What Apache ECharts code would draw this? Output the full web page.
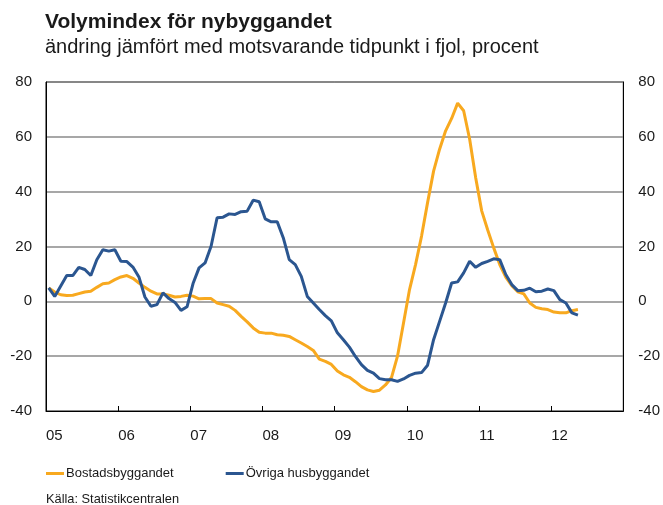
<!DOCTYPE html>
<html>
<head>
    <meta charset="utf-8">
    <title>Volymindex för nybyggandet</title>
    <script src="https://cdn.jsdelivr.net/npm/echarts@6/dist/echarts.min.js"></script>
    <style>
        html, body { margin: 0; padding: 0; background: #fff; }
        #chart1 { width: 663px; height: 505px; }
    </style>
</head>
<body>
<div id="chart1"></div>
<script type="text/javascript">
    // år på x-axeln, en etikett per årsskifte
    var yearLabels = ['05', '06', '07', '08', '09', '10', '11', '12'];
    var yTicks = [-40, -20, 0, 20, 40, 60, 80];

    // månadsvärden jan 2005 - maj 2012, procent
    var bostad = [
        4.9, 3.4, 2.4, 2.1, 2.2, 2.8, 3.4, 3.7, 5.1, 6.4, 6.7, 7.9,
        8.9, 9.4, 8.4, 6.7, 5.1, 3.7, 2.7, 2.7, 2.2, 1.6, 1.8, 2.2,
        1.9, 0.9, 1.0, 1.0, -0.6, -1.2, -1.8, -3.3, -5.5, -7.5, -9.7, -11.3,
        -11.6, -11.6, -12.2, -12.4, -12.8, -14.0, -15.2, -16.5, -17.9, -21.1, -21.9, -23.0,
        -25.4, -26.8, -27.7, -29.3, -31.1, -32.3, -32.9, -32.4, -30.5, -27.8, -20.0, -7.9,
        4.3, 13.4, 23.8, 36.0, 47.5, 55.5, 62.2, 66.7, 72.3, 69.5, 59.1, 45.1,
        33.0, 26.0, 19.5, 13.4, 8.8, 5.7, 3.5, 2.7, -0.6, -2.2, -2.7, -3.0,
        -3.9, -4.2, -4.2, -3.4, -3.0
    ];
    var ovriga = [
        4.9, 1.8, 5.6, 9.4, 9.4, 12.4, 11.6, 9.4, 15.2, 18.8, 18.3, 18.8,
        14.6, 14.5, 12.5, 8.9, 1.6, -1.8, -1.2, 3.1, 1.0, -0.4, -3.3, -2.0,
        6.5, 12.2, 14.0, 20.1, 30.5, 30.7, 31.9, 31.7, 32.7, 32.9, 36.9, 36.3,
        30.1, 29.0, 29.0, 23.2, 15.2, 13.4, 9.1, 1.8, -0.6, -3.0, -5.2, -7.1,
        -11.5, -14.0, -16.7, -20.1, -23.1, -25.2, -26.2, -28.2, -28.6, -28.6, -29.2, -28.3,
        -27.0, -26.2, -26.0, -23.3, -14.0, -7.3, -0.6, 6.7, 7.1, 10.4, 14.6, 12.4,
        13.8, 14.6, 15.5, 15.2, 9.8, 6.1, 3.9, 4.0, 4.8, 3.5, 3.7, 4.5,
        3.9, 0.6, -0.6, -4.2, -5.0
    ];

    // punkterna ligger mitt i månaden
    function toPoints(arr) {
        return arr.map(function (v, i) { return [i + 0.45, v]; });
    }

    var font = 'Liberation Sans, Arial, sans-serif';
    var txt = '#1a1a1a';

    var yAxisBase = {
        type: 'value',
        min: yTicks[0],
        max: yTicks[yTicks.length - 1],
        interval: 20,
        axisLine: { show: true, lineStyle: { color: '#000', width: 1 } },
        axisTick: { show: false },
        axisLabel: { color: txt, fontSize: 15, fontFamily: font }
    };

    var myChart1 = echarts.init(document.getElementById('chart1'));
    myChart1.setOption({
        animation: false,
        backgroundColor: '#fff',
        title: {
            text: 'Volymindex för nybyggandet',
            subtext: 'ändring jämfört med motsvarande tidpunkt i fjol, procent',
            left: 40,
            top: 7,
            itemGap: 4,
            textStyle: { color: txt, fontSize: 21, fontWeight: 'bold', fontFamily: font },
            subtextStyle: { color: txt, fontSize: 20, fontFamily: font }
        },
        grid: {
            left: 46, right: 39, top: 82, bottom: 94,
            show: true, borderColor: '#000', borderWidth: 1
        },
        legend: {
            left: 41,
            top: 462,
            itemWidth: 18,
            itemHeight: 3,
            itemGap: 52,
            icon: 'rect',
            textStyle: { color: txt, fontSize: 13, fontFamily: font, padding: [0, 0, 0, -3] },
            data: ['Bostadsbyggandet', 'Övriga husbyggandet']
        },
        graphic: [{
            type: 'text',
            left: 46,
            top: 493,
            style: { text: 'Källa: Statistikcentralen', fill: txt, fontSize: 12.8, fontFamily: font }
        }],
        xAxis: {
            type: 'value',
            min: 0,
            max: 96,
            interval: 12,
            axisLine: { show: true, onZero: false, lineStyle: { color: '#000', width: 1 } },
            axisTick: { show: true, inside: true, length: 5, lineStyle: { color: '#000' } },
            splitLine: { show: false },
            axisLabel: {
                color: txt, fontSize: 15, fontFamily: font, margin: 17, align: 'left',
                formatter: function (v) {
                    var label = yearLabels[v / 12];
                    return label === undefined ? '' : label;
                }
            }
        },
        yAxis: [
            Object.assign({}, yAxisBase, {
                position: 'left',
                splitLine: { show: true, lineStyle: { color: '#8a8a8a', width: 1.5 } },
                axisLabel: Object.assign({}, yAxisBase.axisLabel, { margin: 14 })
            }),
            Object.assign({}, yAxisBase, {
                position: 'right',
                splitLine: { show: false },
                axisLabel: Object.assign({}, yAxisBase.axisLabel, { margin: 15 })
            })
        ],
        series: [{
            name: 'Bostadsbyggandet',
            type: 'line',
            yAxisIndex: 0,
            showSymbol: false,
            symbol: 'none',
            color: '#f8a91f',
            lineStyle: { width: 3, color: '#f8a91f' },
            data: toPoints(bostad)
        }, {
            name: 'Övriga husbyggandet',
            type: 'line',
            yAxisIndex: 0,
            showSymbol: false,
            symbol: 'none',
            color: '#2b5690',
            lineStyle: { width: 3, color: '#2b5690' },
            data: toPoints(ovriga)
        }]
    });
</script>
</body>
</html>
